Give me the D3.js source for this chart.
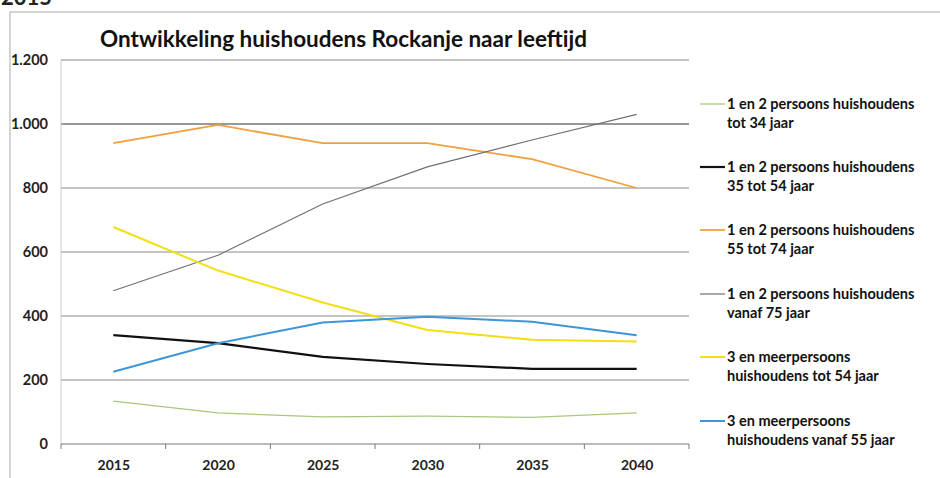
<!DOCTYPE html>
<html><head><meta charset="utf-8">
<script src="https://cdn.jsdelivr.net/npm/d3@7/dist/d3.min.js"></script>
<style>body{margin:0;background:#fff}svg{display:block}text{font-family:Lato,"Open Sans",sans-serif}</style>
</head><body>
<script>
const years = ["2015","2020","2025","2030","2035","2040"];
const yTicks = [0,200,400,600,800,1000,1200];
const seriesNames = [
  ["1 en 2 persoons huishoudens","tot 34 jaar"],
  ["1 en 2 persoons huishoudens","35 tot 54 jaar"],
  ["1 en 2 persoons huishoudens","55 tot 74 jaar"],
  ["1 en 2 persoons huishoudens","vanaf 75 jaar"],
  ["3 en meerpersoons","huishoudens tot 54 jaar"],
  ["3 en meerpersoons","huishoudens vanaf 55 jaar"]
];
const s1 = [134, 97, 85, 87, 83, 97];
const s2 = [340, 315, 272, 250, 235, 235];
const s3 = [940, 997, 940, 940, 890, 800];
const s4 = [479, 590, 750, 866, 950, 1030];
const s5 = [678, 542, 442, 356, 326, 320];
const s6 = [226, 315, 380, 398, 382, 340];
const allSeries = [s1,s2,s3,s4,s5,s6];
const colors = ["#a9c77e","#111111","#f0a040","#707070","#f2df10","#3d96d6"];
const widths = [1.3,2.2,1.8,1.2,2,2];

const W=940,H=478;
const svg=d3.select("body").append("svg").attr("width",W).attr("height",H);
// frame
svg.append("path").attr("d","M10,478 L10,12 L940,12").attr("fill","none").attr("stroke","#aaa").attr("stroke-width",1);
svg.append("text").attr("x",1).attr("y",5).attr("font-size",22).attr("font-weight","bold").attr("fill","#222").text("2015");

const x=d3.scalePoint().domain(years).range([61,689]).padding(0.5);
const y=d3.scaleLinear().domain([0,1200]).range([444,60]);
const fmt=v=>d3.format(",")(v).replace(/,/g,".");

const g=svg.append("g");
g.selectAll(".grid").data(yTicks.filter(d=>d>0)).join("line")
 .attr("x1",61).attr("x2",689).attr("y1",d=>y(d)).attr("y2",d=>y(d))
 .attr("stroke",d=>d===1000?"#333":"#8a8a8a").attr("stroke-width",1);
g.append("line").attr("x1",61).attr("x2",61).attr("y1",60).attr("y2",444).attr("stroke","#ccc");
const xa=svg.append("g").attr("transform","translate(0,444)").call(d3.axisBottom(x).tickSize(0).tickFormat(d=>d));
xa.select(".domain").attr("stroke","#777").attr("d","M61,0H689");
xa.selectAll("text").attr("font-size",14).attr("font-weight","bold").attr("fill","#222").attr("y",26).attr("dy",0);
const step=x.step();
const bounds=d3.range(years.length+1).map(i=>61+i*step);
svg.selectAll(".bt").data(bounds).join("line").attr("x1",d=>d).attr("x2",d=>d).attr("y1",444).attr("y2",449).attr("stroke","#777");
const ya=svg.append("g").attr("transform","translate(61,0)").call(d3.axisLeft(y).tickValues(yTicks).tickSize(0).tickFormat(fmt));
ya.select(".domain").remove();
ya.selectAll("text").attr("font-size",14.5).attr("font-weight","bold").attr("fill","#222").attr("x",-13);

const line=d3.line().x((d,i)=>x(years[i])).y(d=>y(d));
allSeries.forEach((s,i)=>{
  svg.append("path").attr("d",line(s)).attr("fill","none").attr("stroke",colors[i]).attr("stroke-width",widths[i]).attr("stroke-linejoin","round");
});

svg.append("text").attr("x",100).attr("y",47).attr("font-size",22.5).attr("font-weight","bold").attr("fill","#111").text("Ontwikkeling huishoudens Rockanje naar leeftijd");

const legY=[104,167,230,294,357,421];
seriesNames.forEach((n,i)=>{
  const lg=svg.append("g").attr("transform",`translate(0,${legY[i]})`);
  lg.append("line").attr("x1",700).attr("x2",725).attr("y1",0).attr("y2",0).attr("stroke",colors[i]).attr("stroke-width",widths[i]);
  lg.append("text").attr("x",727).attr("y",5).attr("font-size",14.5).attr("font-weight","bold").attr("fill","#111").text(n[0]);
  lg.append("text").attr("x",727).attr("y",24).attr("font-size",14.5).attr("font-weight","bold").attr("fill","#111").text(n[1]);
});
</script>
</body></html>
